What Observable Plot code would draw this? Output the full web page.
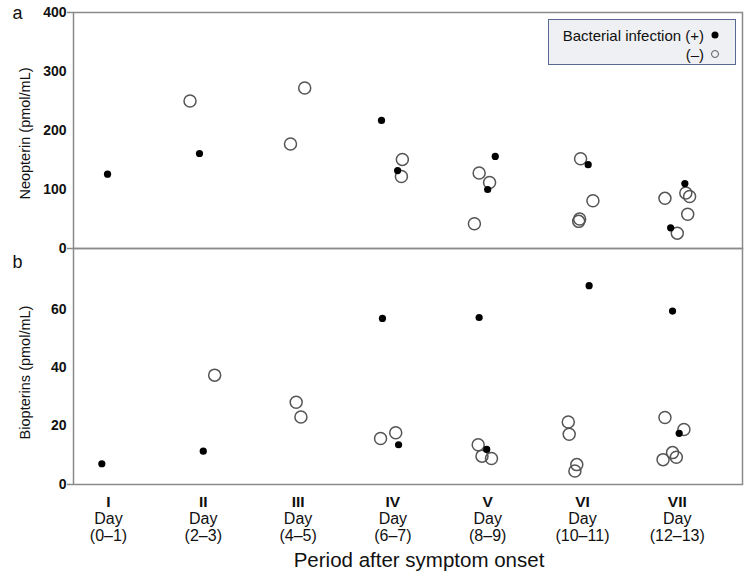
<!DOCTYPE html>
<html>
<head>
<meta charset="utf-8">
<script src="https://cdn.jsdelivr.net/npm/d3@7"></script>
<script src="https://cdn.jsdelivr.net/npm/@observablehq/plot@0.6"></script>
<style>
  body { margin: 0; background: #fff; font-family: "Liberation Sans", Arial, sans-serif; }
  #wrap { position: relative; width: 750px; height: 576px; overflow: hidden; background: #fff; }
  #top { position: absolute; left: 0; top: 0; }
  #bot { position: absolute; left: 0; top: 248px; }
  #legend { position: absolute; left: 548px; top: 19px; width: 186px; height: 44px;
            background: #eff0f3; border: 1px solid #5a6894; font-size: 15px; color: #111; }
  #legend .row { position: absolute; right: 14px; height: 18px; display: flex; align-items: center; }
  #legend .row span { margin-right: 5px; }
  #legend svg { display: block; }
</style>
</head>
<body>
<div id="wrap">
  <div id="top"></div>
  <div id="bot"></div>
  <div id="legend">
    <div class="row" style="top:6px"><span>Bacterial infection (+)</span><svg width="12" height="12"><circle cx="6" cy="6" r="3.5" fill="#000"></circle></svg></div>
    <div class="row" style="top:25px"><span>(–)</span><svg width="12" height="12"><circle cx="6" cy="6" r="3.5" fill="none" stroke="#555" stroke-width="1"></circle></svg></div>
  </div>
</div>
<script>
// ---- data ----
const periods = [1, 2, 3, 4, 5, 6, 7];
const romans = ["I", "II", "III", "IV", "V", "VI", "VII"];
const dayRanges = ["(0–1)", "(2–3)", "(4–5)", "(6–7)", "(8–9)", "(10–11)", "(12–13)"];

// Neopterin, bacterial infection (+)
const neoPosX = [0.99, 1.96, 3.88, 4.05, 5.08, 5.00, 6.06, 7.08, 6.93];
const neoPosY = [126, 161, 217, 132, 156, 100, 142, 110, 35];
// Neopterin, bacterial infection (−)
const neoNegX = [1.86, 2.92, 3.07, 4.10, 4.09, 4.91, 5.02, 4.86, 5.98, 6.11, 5.97, 5.96, 6.87, 7.09, 7.13, 7.11, 7.00];
const neoNegY = [250, 177, 272, 151, 122, 128, 112, 42, 152, 81, 50, 46, 85, 94, 88, 58, 26];
// Biopterins, bacterial infection (+)
const bioPosX = [0.93, 2.00, 3.89, 4.06, 4.91, 4.99, 6.07, 6.95, 7.02];
const bioPosY = [7.1, 11.4, 56.8, 13.6, 57.1, 12.0, 68.0, 59.3, 17.5];
// Biopterins, bacterial infection (−)
const bioNegX = [2.12, 2.98, 3.03, 3.87, 4.03, 4.90, 4.94, 5.04, 5.85, 5.86, 5.94, 5.92, 6.87, 7.07, 6.95, 6.99, 6.85];
const bioNegY = [37.4, 28.1, 23.1, 15.7, 17.7, 13.6, 9.7, 8.9, 21.4, 17.2, 6.8, 4.6, 22.9, 18.8, 10.9, 9.3, 8.5];

const neoTicks = [0, 100, 200, 300, 400];
const bioTicks = [0, 20, 40, 60];

const zip = (xs, ys) => xs.map((x, i) => ({x, y: ys[i]}));
const neoPos = zip(neoPosX, neoPosY), neoNeg = zip(neoNegX, neoNegY);
const bioPos = zip(bioPosX, bioPosY), bioNeg = zip(bioNegX, bioNegY);

const xDomain = [0.631, 7.688];
const frameColor = "#8a8a8a";
const font = "'Liberation Sans', Arial, sans-serif";

const topPlot = Plot.plot({
  width: 750, height: 248,
  marginTop: 12, marginBottom: 0, marginLeft: 73, marginRight: 8,
  x: {domain: xDomain, axis: null},
  y: {domain: [0, 400], axis: null},
  style: {fontFamily: font, background: "transparent", overflow: "visible", color: "#111"},
  marks: [
    Plot.frame({stroke: frameColor, strokeWidth: 1.5}),
    Plot.axisY({ticks: neoTicks, tickSize: 0, tickPadding: 7, fontWeight: "bold", fontSize: 14, label: null}),
    Plot.axisY({ticks: [0, 400], tickSize: 6, tickFormat: () => "", stroke: frameColor, strokeWidth: 1.5, label: null}),
    Plot.text(["Neopterin (pmol/mL)"], {text: d => d, frameAnchor: "left", rotate: -90, dx: -48, dy: 3, fontSize: 14.5, textAnchor: "middle", lineAnchor: "middle"}),
    Plot.text(["a"], {text: d => d, frameAnchor: "top-left", textAnchor: "start", lineAnchor: "middle", dx: -61, dy: 1, fontSize: 18}),
    Plot.dot(neoNeg, {x: "x", y: "y", r: 6, fill: "none", stroke: "#555", strokeWidth: 1.5}),
    Plot.dot(neoPos, {x: "x", y: "y", r: 3.6, fill: "#000", stroke: "none"})
  ]
});
document.getElementById("top").append(topPlot);

const botPlot = Plot.plot({
  width: 750, height: 328,
  marginTop: 0, marginBottom: 92, marginLeft: 73, marginRight: 8,
  x: {domain: xDomain, axis: null},
  y: {domain: [0, 80.7], axis: null},
  style: {fontFamily: font, background: "transparent", overflow: "visible", color: "#111"},
  marks: [
    Plot.frame({stroke: frameColor, strokeWidth: 1.5}),
    Plot.axisY({ticks: bioTicks, tickSize: 0, tickPadding: 7, fontWeight: "bold", fontSize: 14, label: null}),
    Plot.axisY({ticks: [0], tickSize: 6, tickFormat: () => "", stroke: frameColor, strokeWidth: 1.5, label: null}),
    Plot.text(["Biopterins (pmol/mL)"], {text: d => d, frameAnchor: "left", rotate: -90, dx: -48, dy: 6, fontSize: 14.5, textAnchor: "middle", lineAnchor: "middle"}),
    Plot.text(["b"], {text: d => d, frameAnchor: "top-left", textAnchor: "start", lineAnchor: "middle", dx: -61, dy: 13.5, fontSize: 18}),
    Plot.text(periods, {x: d => d, text: d => romans[d - 1], frameAnchor: "bottom", lineAnchor: "middle", dy: 18, fontSize: 15.5, fontWeight: "bold"}),
    Plot.text(periods, {x: d => d, text: () => "Day", frameAnchor: "bottom", lineAnchor: "middle", dy: 34.5, fontSize: 16}),
    Plot.text(periods, {x: d => d, text: d => dayRanges[d - 1], frameAnchor: "bottom", lineAnchor: "middle", dy: 51.5, fontSize: 16}),
    Plot.text(["Period after symptom onset"], {text: d => d, frameAnchor: "bottom", lineAnchor: "middle", dx: 11, dy: 76, fontSize: 20.5}),
    Plot.dot(bioNeg, {x: "x", y: "y", r: 6, fill: "none", stroke: "#555", strokeWidth: 1.5}),
    Plot.dot(bioPos, {x: "x", y: "y", r: 3.6, fill: "#000", stroke: "none"})
  ]
});
document.getElementById("bot").append(botPlot);
</script>
</body>
</html>
